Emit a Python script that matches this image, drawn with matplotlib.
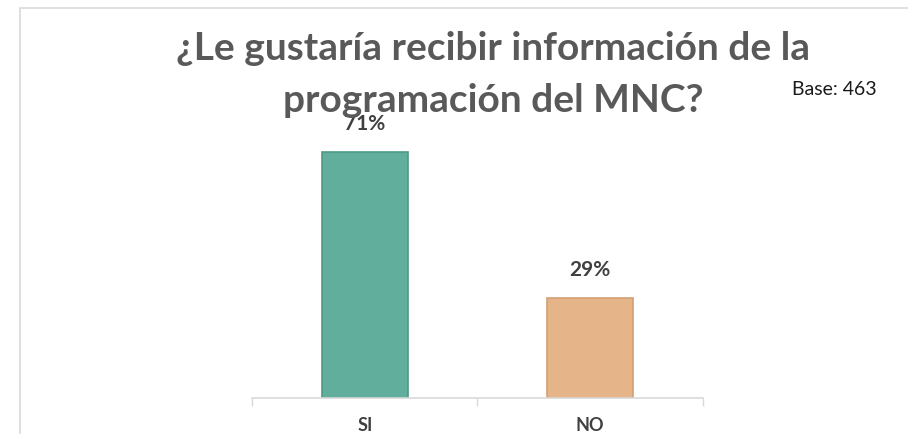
import matplotlib.pyplot as plt
from matplotlib.patches import Rectangle

categories = ["SI", "NO"]
values = [0.71, 0.29]
labels = ["71%", "29%"]
title_lines = ["¿Le gustaría recibir información de la", "programación del MNC?"]
base_text = "Base: 463"

bar_colors = ["#62ae9c", "#e5b589"]
edge_colors = ["#4f9987", "#d49f72"]

plt.rcParams['font.family'] = ['Lato', 'DejaVu Sans']

fig = plt.figure(figsize=(9.08, 4.34), dpi=100)
ax = fig.add_axes([0.2775, 0.0829, 0.4967, 0.638])

# chart border (light gray)
fig.patches.append(Rectangle((0.022, -0.05), 1.1, 1.05 - 0.0184, transform=fig.transFigure,
                             fill=False, edgecolor="#d9d9d9", linewidth=1.2))

x = range(len(categories))
ax.bar(x, values, width=0.38, color=bar_colors, edgecolor=edge_colors, linewidth=1.2)
for i, (v, lab) in enumerate(zip(values, labels)):
    ax.annotate(lab, (i, v), xytext=(0, 18), textcoords="offset pixels",
                ha="center", va="bottom", fontsize=15, fontweight="bold", color="#404040")

ax.set_xlim(-0.5, 1.5)
ax.set_ylim(0, 0.8)
ax.set_yticks([])
ax.set_xticks(list(x))
ax.set_xticklabels(categories, fontsize=13, fontweight="bold", color="#404040")
ax.tick_params(axis="x", which="major", length=0, pad=14)
ax.set_xticks([-0.5, 0.5, 1.5], minor=True)
ax.tick_params(axis="x", which="minor", length=6, color="#d9d9d9", width=1)
for s in ["top", "right", "left"]:
    ax.spines[s].set_visible(False)
ax.spines["bottom"].set_color("#d9d9d9")
ax.spines["bottom"].set_linewidth(1.2)

fig.text(0.543, 1 - 60 / 434, title_lines[0], ha="center", va="baseline",
         fontsize=28, fontweight="bold", color="#595959")
fig.text(0.543, 1 - 112 / 434, title_lines[1], ha="center", va="baseline",
         fontsize=28, fontweight="bold", color="#595959")
fig.text(792 / 908, 1 - 95 / 434, base_text, ha="left", va="baseline",
         fontsize=14, color="#1a1a1a")

fig.savefig("out.png", dpi=100)
